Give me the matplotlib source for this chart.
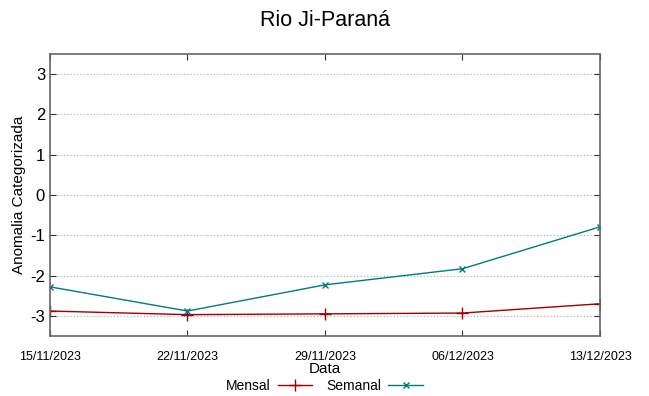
import matplotlib
matplotlib.use('Agg')
import matplotlib.pyplot as plt
from matplotlib import font_manager
import pandas as pd

plt.rcParams['font.family'] = ['Liberation Sans', 'DejaVu Sans']

datas = ["15/11/2023", "22/11/2023", "29/11/2023", "06/12/2023", "13/12/2023"]
mensal = [-2.88, -2.97, -2.95, -2.93, -2.70]
semanal = [-2.28, -2.88, -2.23, -1.83, -0.79]
yticks = [-3, -2, -1, 0, 1, 2, 3]

x = pd.to_datetime(datas, format="%d/%m/%Y")

# narrow font for the gnuplot-like squeezed labels, if available
nomes = {f.name for f in font_manager.fontManager.ttflist}
if 'Liberation Sans Narrow' in nomes:
    estreita, tam_leg, tam_x = ['Liberation Sans Narrow', 'DejaVu Sans'], 12, 10.5
else:
    estreita, tam_leg, tam_x = ['Liberation Sans', 'DejaVu Sans'], 10, 9

fig = plt.figure(figsize=(6.49, 3.96), dpi=100)
ax = fig.add_axes([0.077, 0.1515, 0.8475, 0.7121])

ax.plot(x, mensal, color="#a00000", marker="+", markersize=8, linewidth=1, label="Mensal")
ax.plot(x, semanal, color="#007b7b", marker="x", markersize=5, linewidth=1, label="Semanal")

ax.set_xlim(x[0], x[-1])
ax.set_ylim(-3.5, 3.5)
ax.set_yticks(yticks)
ax.set_yticklabels([str(v) for v in yticks], fontsize=12)
ax.set_xticks(x)
ax.set_xticklabels(datas, fontsize=tam_x, family=estreita)
ax.tick_params(direction="in", top=True, right=True, length=4, color="#333333")
ax.tick_params(axis="x", pad=11)
ax.grid(axis="y", linestyle=(0, (1, 2)), color="#aaaaaa", linewidth=0.8)
for s in ax.spines.values():
    s.set_color("#666666")
    s.set_linewidth(1.2)

ax.set_xlabel("Data", fontsize=11, labelpad=-1)
ax.set_ylabel("Anomalia Categorizada", fontsize=11, labelpad=3)
fig.suptitle("Rio Ji-Paraná", fontsize=15.5, y=0.975)

fig.legend(loc="center", bbox_to_anchor=(0.5, 0.026), ncol=2, frameon=False,
           markerfirst=False, prop={'family': estreita, 'size': tam_leg},
           handlelength=2.5, columnspacing=1.0, handletextpad=0.5,
           borderpad=0.1)

fig.savefig("out.png", dpi=100)
